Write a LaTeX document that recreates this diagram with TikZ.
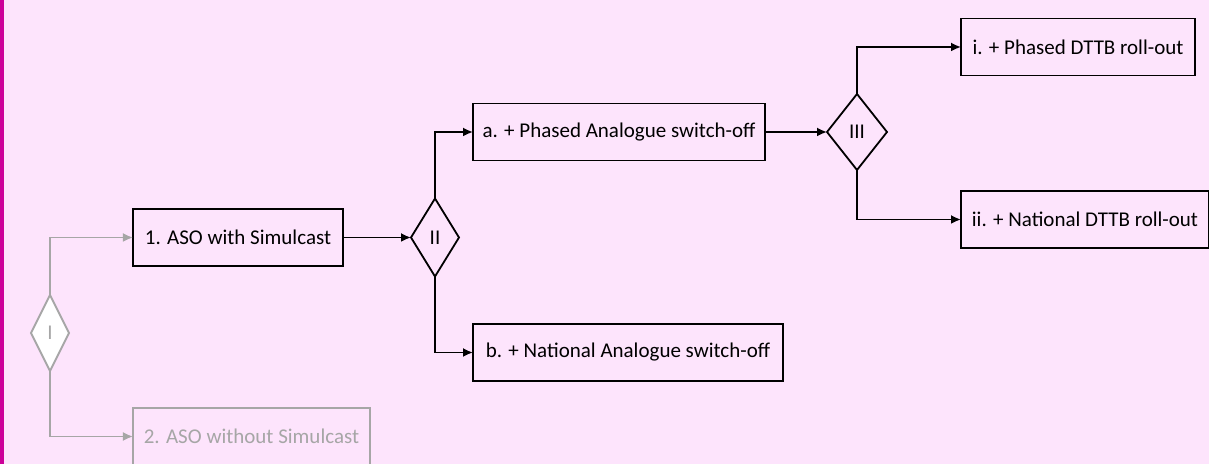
\documentclass[tikz,border=0pt]{standalone}
\usepackage{fontspec}
\setmainfont{Carlito}
\usetikzlibrary{positioning, calc, shapes.geometric, arrows.meta}
\definecolor{fond}{RGB}{253,228,252}
\definecolor{bord}{RGB}{204,0,153}
\definecolor{gris}{RGB}{166,166,166}
\tikzset{
  choix/.style={draw, rectangle, line width=0.9pt, outer sep=0pt, minimum height=28.5pt, inner xsep=3pt},
  etape/.style={draw, diamond, line width=0.9pt, outer sep=0pt, inner sep=0pt},
  fleche/.style={line width=0.9pt, -{Latex[length=5pt,width=4.5pt]}},
}

\begin{document}
\begin{tikzpicture}[font=\fontsize{10.5}{12.6}\selectfont]
\fill[fond] (-119pt,-113.25pt) rectangle (485.5pt,118.75pt);
\fill[bord] (-119pt,-113.25pt) rectangle (-117pt,118.75pt);
\useasboundingbox (-119pt,-113.25pt) rectangle (485.5pt,118.75pt);

\node[choix, minimum width=105pt] (S1) at (0,0) {1. ASO with Simulcast};
\node[etape, minimum width=24pt, minimum height=39pt, right=34pt of S1] (D2) {II};
\node[choix, minimum width=146pt, right=19pt of D2.north, yshift=33.25pt] (A) {a. + Phased Analogue switch-off};
\node[choix, minimum width=155pt, right=19pt of D2.south, yshift=-38pt] (B) {b. + National Analogue switch-off};
\node[etape, minimum width=30pt, minimum height=38pt, right=31pt of A] (D3) {III};
\node[choix, minimum width=117pt, right=52pt of D3.north, yshift=23.5pt] (Ai) {i. + Phased DTTB roll-out};
\node[choix, minimum width=124pt, right=52pt of D3.south, yshift=-24.75pt] (Aii) {ii. + National DTTB roll-out};

% premier choix, en gris
\node[etape, gris, fill=white, minimum width=19pt, minimum height=38pt] (D1) at ($(S1.west)+(-41.5pt,-47.75pt)$) {I};
\node[choix, gris, minimum width=118.5pt, right=41.5pt of D1.south, yshift=-32.75pt] (S2) {2. ASO without Simulcast};

\draw[fleche, gris] (D1.north) |- (S1);
\draw[fleche, gris] (D1.south) |- (S2);
\draw[fleche] (S1) -- (D2);
\draw[fleche] (D2.north) |- (A);
\draw[fleche] (D2.south) |- (B);
\draw[fleche] (A) -- (D3);
\draw[fleche] (D3.north) |- (Ai);
\draw[fleche] (D3.south) |- (Aii);
\end{tikzpicture}
\end{document}
